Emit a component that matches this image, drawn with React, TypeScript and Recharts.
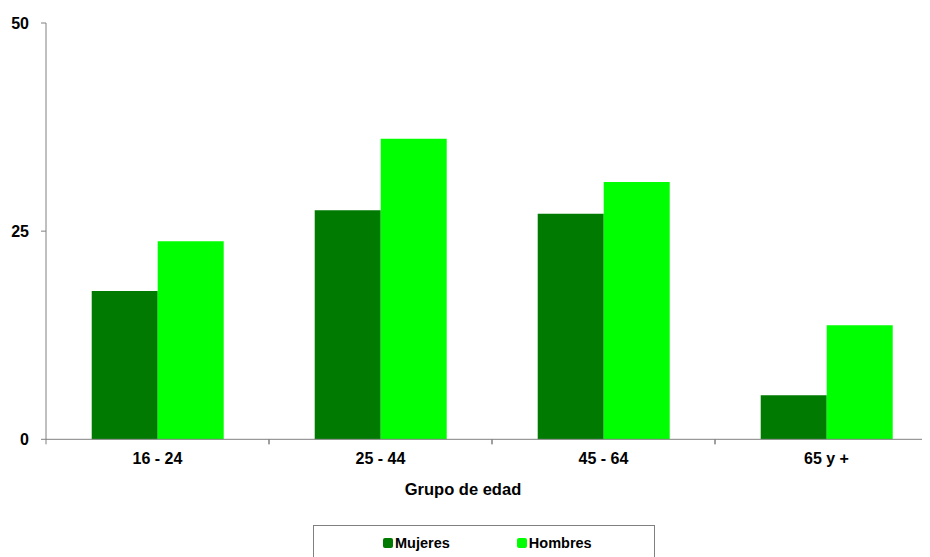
import React from "react";
import { Bar, BarChart, Label, Legend, XAxis, YAxis } from "recharts";

const categorias = ["16 - 24", "25 - 44", "45 - 64", "65 y +"];
const series = ["Mujeres", "Hombres"];
const mujeres = [17.8, 27.5, 27.1, 5.3];
const hombres = [23.8, 36.1, 30.9, 13.7];
const ticksY = [0, 25, 50];

const FUENTE = "'Liberation Sans', Arial, sans-serif";
const ANCHO = 936;
const MARGEN = { top: 15, right: 6, bottom: 17.7, left: 0 };
const ANCHO_Y = 38;
const MITAD_BANDA = (ANCHO - MARGEN.left - MARGEN.right - ANCHO_Y) / categorias.length / 2;
const MARGEN_TICK = 13.5;

const datos = categorias.map((c, i) => ({ grupo: c, Mujeres: mujeres[i], Hombres: hombres[i] }));

const TickX = (props: any) => {
  const { x, y, payload } = props;
  const y0 = y - MARGEN_TICK;
  return (
    <g>
      <line x1={x - MITAD_BANDA} x2={x - MITAD_BANDA} y1={y0} y2={y0 + 5} stroke="#808080" />
      <line x1={x + MITAD_BANDA} x2={x + MITAD_BANDA} y1={y0} y2={y0 + 5} stroke="#808080" />
      <text x={x} y={y} dy="0.71em" textAnchor="middle" fontFamily={FUENTE} fontWeight="bold" fontSize={16} fill="#000">
        {payload.value}
      </text>
    </g>
  );
};

const Leyenda = (props: any) => {
  const items = [...(props.payload || [])].sort((a: any, b: any) => series.indexOf(a.value) - series.indexOf(b.value));
  return (
    <div style={{ display: "flex", justifyContent: "flex-start", paddingLeft: 69, paddingTop: 9, fontFamily: FUENTE, fontWeight: "bold", fontSize: 14.5 }}>
      {items.map((p: any, i: number) => (
        <div key={p.value} style={{ display: "flex", alignItems: "center", marginRight: i === 0 ? 67 : 0 }}>
          <span style={{ width: 10, height: 10, background: p.color, borderRadius: 2, display: "inline-block", marginRight: 2 }} />
          <span>{p.value}</span>
        </div>
      ))}
    </div>
  );
};

export default function App() {
  return (
    <div style={{ width: 922, height: 549, overflow: "hidden", position: "relative" }}>
      <BarChart width={ANCHO} height={549} data={datos} margin={MARGEN} barCategoryGap="20.5%" barGap={0}>
        <YAxis
          width={ANCHO_Y}
          domain={[0, 50]}
          ticks={ticksY}
          interval={0}
          stroke="#808080"
          tickSize={5}
          tickMargin={12}
          tick={{ fill: "#000", fontFamily: FUENTE, fontWeight: "bold", fontSize: 16 }}
        />
        <XAxis
          dataKey="grupo"
          height={60}
          stroke="#808080"
          tickLine={false}
          tickSize={0}
          tickMargin={MARGEN_TICK}
          tick={<TickX />}
          interval={0}
        >
          <Label value="Grupo de edad" position="insideBottom" offset={4.5} dx={-29} fill="#000" fontFamily={FUENTE} fontWeight="bold" fontSize={16.5} />
        </XAxis>
        <Legend
          verticalAlign="bottom"
          content={<Leyenda />}
          wrapperStyle={{ left: 305, top: 517, bottom: "auto", width: 342, height: 40, border: "1px solid #808080", boxSizing: "border-box", background: "#fff" }}
        />
        <Bar dataKey="Mujeres" fill="#007A00" isAnimationActive={false} />
        <Bar dataKey="Hombres" fill="#00FF00" isAnimationActive={false} />
      </BarChart>
    </div>
  );
}
